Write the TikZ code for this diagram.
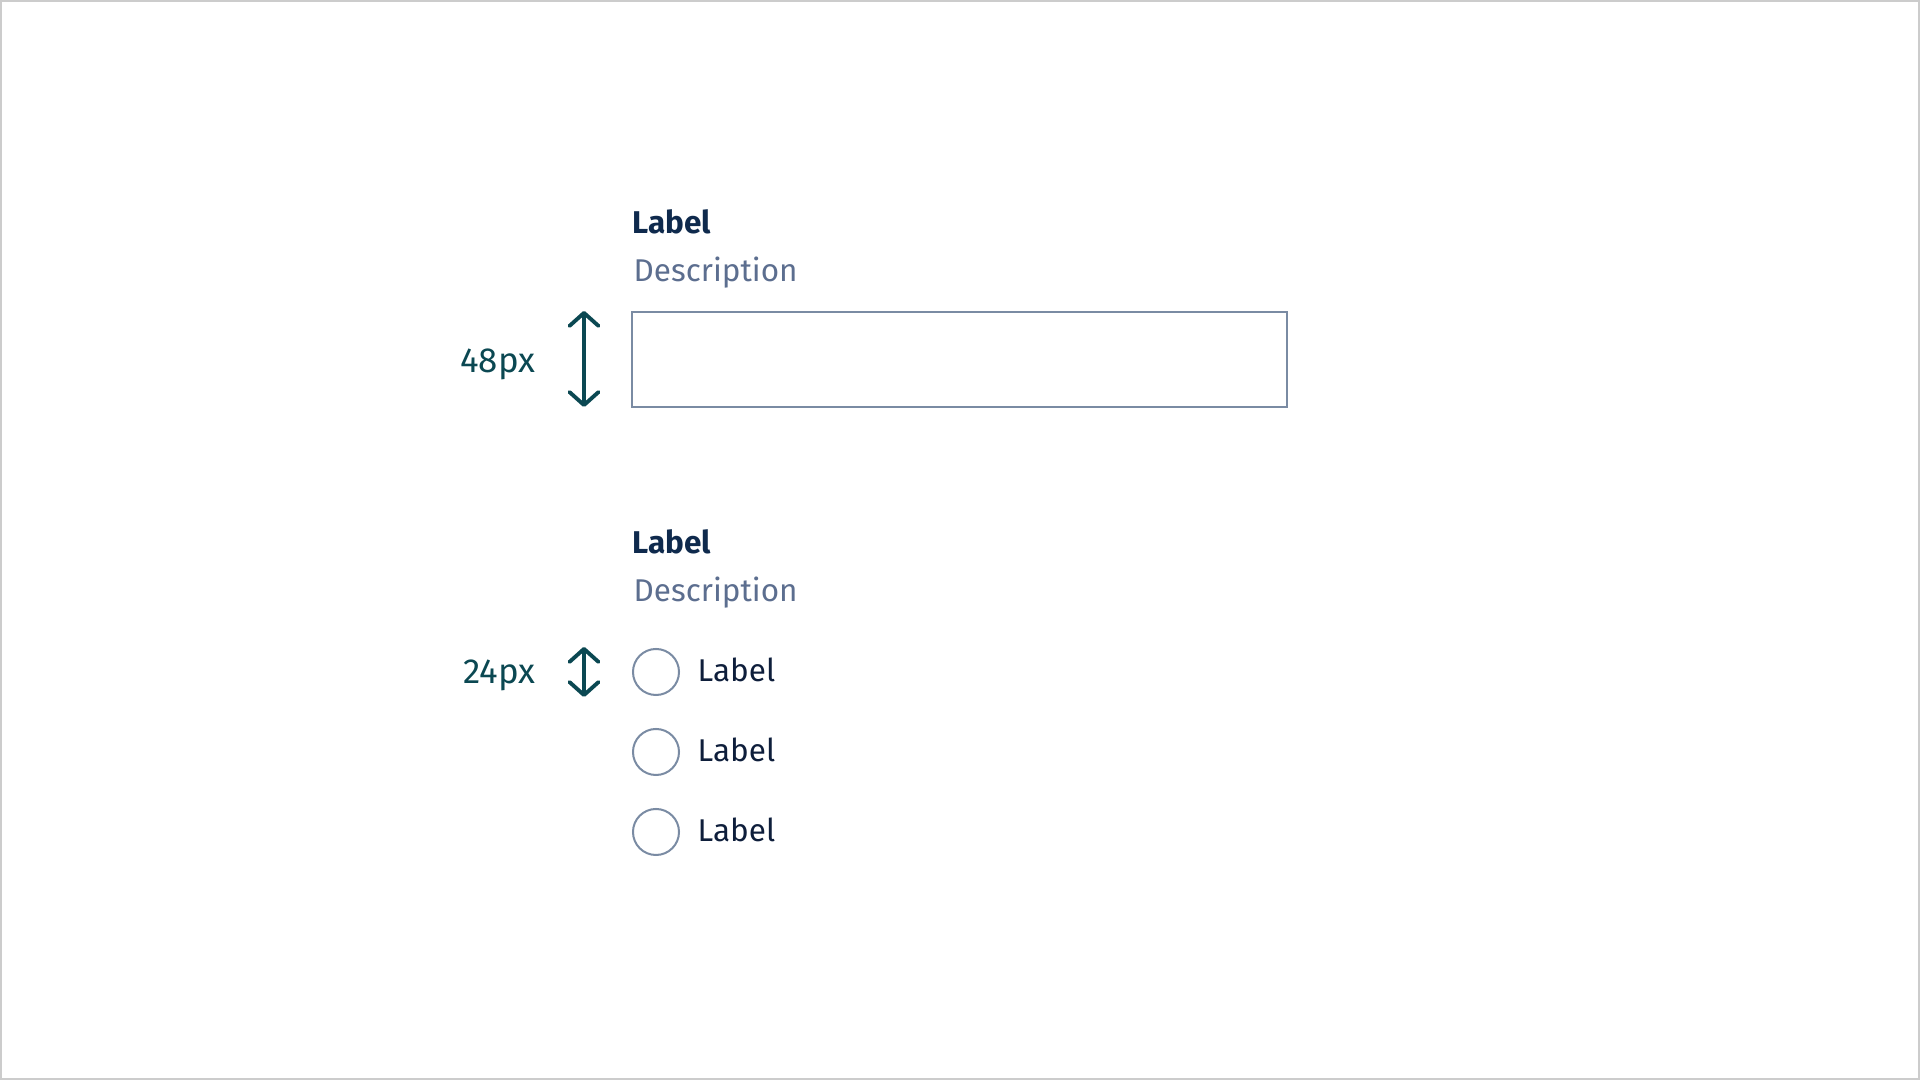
\documentclass[tikz,border=0pt]{standalone}
\usepackage{fontspec}
\setmainfont{Fira Sans}
\usetikzlibrary{arrows.meta}
\definecolor{navy}{HTML}{0F2A4D}
\definecolor{desc}{HTML}{5C6E8F}
\definecolor{slate}{HTML}{7A8BA3}
\definecolor{teal}{HTML}{0B4852}
\definecolor{optcol}{HTML}{0E1E3B}
\definecolor{frame}{HTML}{CCCCCC}
\tikzset{
  title/.style={anchor=base west, inner sep=0, text=navy, font=\fontsize{8.95pt}{10pt}\selectfont\bfseries},
  descr/.style={anchor=base west, inner sep=0, text=desc, font=\fontsize{8.95pt}{10pt}\selectfont},
  dimtext/.style={anchor=base east, inner sep=0, text=teal, font=\fontsize{9.9pt}{11pt}\selectfont},
  opt/.style={anchor=base west, inner sep=0, text=optcol, font=\fontsize{8.95pt}{10pt}\selectfont},
  inputbox/.style={draw=slate, line width=0.57pt, minimum width=6.55cm, minimum height=0.94cm, inner sep=0},
  radio/.style={draw=slate, circle, line width=0.57pt, minimum size=0.46cm, inner sep=0},
  dimarrow/.style={draw=teal, line width=1.1pt, line cap=round,
    {Straight Barb[length=1.3mm,width=2.9mm,line cap=round,line join=round]}-{Straight Barb[length=1.3mm,width=2.9mm,line cap=round,line join=round]}}
}
\begin{document}
\begin{tikzpicture}[x=0.01cm,y=-0.01cm]
\useasboundingbox (0,0) rectangle (1920,1080);
\draw[frame, line width=0.57pt] (1,1) rectangle (1919,1079);

% first group
\node[title] (t1) at (632,234) {Label};
\node[descr] (d1) at (633,282) {Description};
\node[inputbox] (box) at (959.5,359.5) {};
\coordinate (a1t) at (584,311);
\coordinate (a1b) at (584,407);
\draw[dimarrow] (a1t) -- (a1b);
\node[dimtext] (w1) at (536,373) {48px};

% second group
\node[title] (t2) at (632,554) {Label};
\node[descr] (d2) at (633,602) {Description};
\coordinate (a2t) at (584,647);
\coordinate (a2b) at (584,697);
\draw[dimarrow] (a2t) -- (a2b);
\node[dimtext] (w2) at (536,684) {24px};

\node[radio] (r1) at (656,672) {};
\node[radio] (r2) at (656,752) {};
\node[radio] (r3) at (656,832) {};
\node[opt] (l1) at (697,682) {Label};
\node[opt] (l2) at (697,762) {Label};
\node[opt] (l3) at (697,842) {Label};
\end{tikzpicture}
\end{document}
